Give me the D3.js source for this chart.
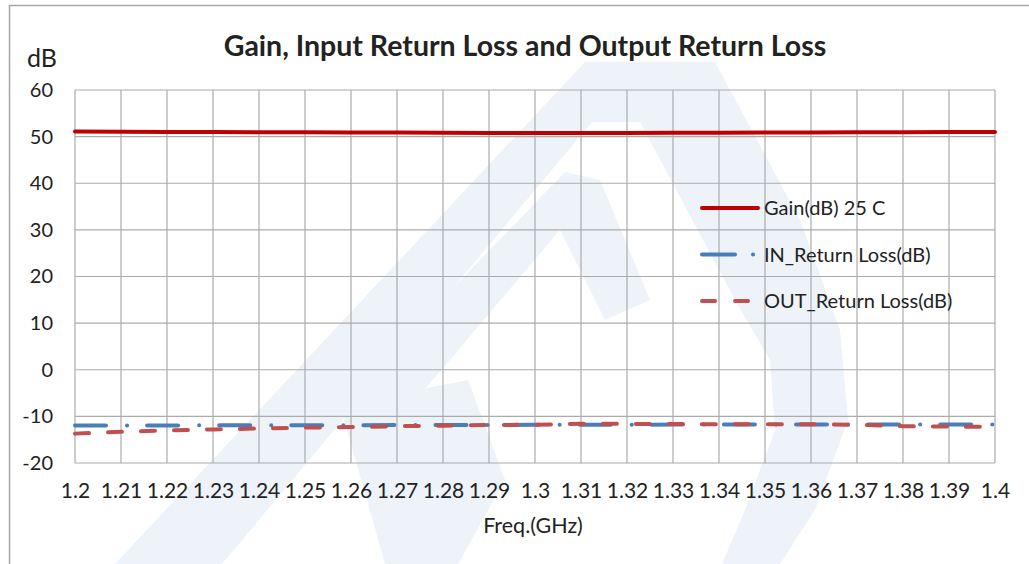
<!DOCTYPE html>
<html>
<head>
<meta charset="utf-8">
<script src="https://cdn.jsdelivr.net/npm/d3@7"></script>
<style>
  body { margin: 0; background: #fff; }
  text { font-family: Lato, "Open Sans", sans-serif; fill: #222; }
</style>
</head>
<body>
<div id="chart-area"></div>
<script>
// data
const freqs = [1.2, 1.21, 1.22, 1.23, 1.24, 1.25, 1.26, 1.27, 1.28, 1.29, 1.3,
  1.31, 1.32, 1.33, 1.34, 1.35, 1.36, 1.37, 1.38, 1.39, 1.4]
const gain = [51.1, 51.05, 51.0, 51.0, 50.95, 50.95, 50.9, 50.9, 50.85, 50.8, 50.8,
  50.8, 50.8, 50.85, 50.85, 50.9, 50.9, 50.95, 50.95, 51.0, 51.0]
const inReturnLoss = [-11.95, -11.95, -11.95, -11.9, -11.9, -11.9, -11.9, -11.85, -11.85, -11.85, -11.8,
  -11.8, -11.8, -11.75, -11.75, -11.75, -11.75, -11.75, -11.75, -11.75, -11.75]
const outReturnLoss = [-13.7, -13.3, -13.0, -12.8, -12.6, -12.4, -12.3, -12.1, -12.0, -11.85, -11.8,
  -11.6, -11.6, -11.65, -11.7, -11.7, -11.7, -11.8, -12.1, -12.2, -12.2]
const yTicks = [60, 50, 40, 30, 20, 10, 0, -10, -20]
const seriesNames = ["Gain(dB) 25 C", "IN_Return Loss(dB)", "OUT_Return Loss(dB)"]

const W = 1029, H = 564
const MARGIN = {LEFT: 75, RIGHT: 34, TOP: 90, BOTTOM: 101}

const svg = d3.select("#chart-area").append("svg")
  .attr("width", W)
  .attr("height", H)

// faint logo watermark behind the chart
const wm = svg.append("g").attr("fill", "#edf3f9")
wm.append("path")
  .attr("fill-rule", "evenodd")
  .attr("d", "M115,564 L585,62 L715,62 L800,220 L840,330 L848,420 L815,510 L780,564 Z " +
    "M222,564 L592,122 L640,122 L735,300 L770,360 L775,430 L745,510 L722,564 Z")
wm.append("path")
  .attr("d", "M385,564 L458,564 L505,480 L468,380 L340,405 Z")
wm.append("path")
  .attr("d", "M340,405 L565,172 L600,180 L650,300 L605,320 L560,230 L420,395 Z")

// chart frame (top and left only visible)
svg.append("line").attr("x1", 9).attr("x2", W).attr("y1", 5.5).attr("y2", 5.5)
  .attr("stroke", "#a6a6a6").attr("stroke-width", 1.5)
svg.append("line").attr("x1", 9.5).attr("x2", 9.5).attr("y1", 5).attr("y2", H)
  .attr("stroke", "#a6a6a6").attr("stroke-width", 1.5)

const x = d3.scaleLinear()
  .domain([1.2, 1.4])
  .range([MARGIN.LEFT, W - MARGIN.RIGHT])

const y = d3.scaleLinear()
  .domain([-20, 60])
  .range([H - MARGIN.BOTTOM, MARGIN.TOP])

// gridlines
const grid = svg.append("g").attr("stroke", "#ababab").attr("stroke-width", 1.2)
grid.selectAll("line.v").data(freqs).enter().append("line")
  .attr("class", "v")
  .attr("x1", d => x(d)).attr("x2", d => x(d))
  .attr("y1", y(60)).attr("y2", y(-20))
grid.selectAll("line.h").data(yTicks).enter().append("line")
  .attr("class", "h")
  .attr("x1", x(1.2)).attr("x2", x(1.4))
  .attr("y1", d => y(d)).attr("y2", d => y(d))

// Y Axis labels
const yAxisCall = d3.axisLeft(y).tickValues(yTicks).tickSize(0).tickPadding(22)
  .tickFormat(d => String(d))
const yAxis = svg.append("g")
  .attr("transform", `translate(${MARGIN.LEFT}, 0)`)
  .call(yAxisCall)
yAxis.select(".domain").remove()
yAxis.selectAll("text").style("font-size", "20px").attr("fill", "#222")

// X Axis labels
const xAxisCall = d3.axisBottom(x).tickValues(freqs).tickSize(0).tickPadding(20)
  .tickFormat(d => String(+d.toFixed(2)))
const xAxis = svg.append("g")
  .attr("transform", `translate(0, ${y(-20)})`)
  .call(xAxisCall)
xAxis.select(".domain").remove()
xAxis.selectAll("text").style("font-size", "21px").attr("fill", "#222")

// Titles
svg.append("text")
  .attr("x", 525).attr("y", 56)
  .attr("text-anchor", "middle")
  .attr("font-size", "28.5px").attr("font-weight", "bold")
  .text("Gain, Input Return Loss and Output Return Loss")
svg.append("text")
  .attr("x", 27).attr("y", 67)
  .attr("font-size", "25px")
  .text("dB")
svg.append("text")
  .attr("x", 533).attr("y", 533)
  .attr("text-anchor", "middle")
  .attr("font-size", "21.5px")
  .text("Freq.(GHz)")

// series
const styles = [
  {values: gain, color: "#c00000", dash: null},
  {values: inReturnLoss, color: "#4a7ebb", dash: "31,21,0.1,20"},
  {values: outReturnLoss, color: "#c0504d", dash: "14,19"}
]

const line = d3.line()
  .x(d => x(d[0]))
  .y(d => y(d[1]))

styles.forEach(s => {
  svg.append("path")
    .datum(freqs.map((f, i) => [f, s.values[i]]))
    .attr("fill", "none")
    .attr("stroke", s.color)
    .attr("stroke-width", 4)
    .attr("stroke-linecap", "round")
    .attr("stroke-dasharray", s.dash)
    .attr("d", line)
})

// Legend
const legend = svg.append("g").attr("transform", "translate(702, 208)")
const legendDash = [null, "33,18,0.1,20", "13,20"]
seriesNames.forEach((name, i) => {
  const row = legend.append("g").attr("transform", `translate(0, ${i * 46.5})`)
  row.append("line")
    .attr("x1", 0).attr("x2", i === 1 ? 54 : 56)
    .attr("stroke", styles[i].color)
    .attr("stroke-width", 4)
    .attr("stroke-linecap", "round")
    .attr("stroke-dasharray", legendDash[i])
  row.append("text")
    .attr("x", 62).attr("y", 7)
    .attr("font-size", "20px")
    .text(name)
})
</script>
</body>
</html>
